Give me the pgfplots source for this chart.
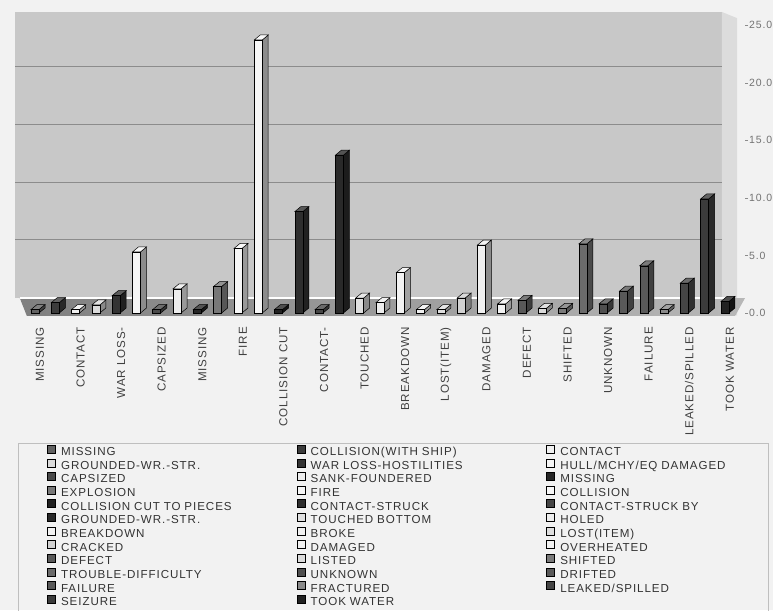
\documentclass[border=0pt]{standalone}
\usepackage{pgfplots}
\pgfplotsset{compat=1.18}
\usepackage{fontspec}
\setmainfont{Liberation Sans}
\newfontfamily\lsfont{Liberation Sans}[LetterSpace=8]
\definecolor{pagebg}{HTML}{F2F2F2}
\definecolor{wall}{HTML}{C8C8C8}
\definecolor{sidewall}{HTML}{DCDCDC}
\pgfplotsset{lg/.style={legend image code/.code={\draw[##1,draw=black,line width=0.6pt] (0pt,-0.5pt) rectangle (8pt,7.5pt);}}}
% #1 = position, #2 = value, #3 = front grey level, #4 = side grey level, #5 = legend text
\newcommand{\mybar}[5]{%
  \pgfmathsetmacro\xa{#1+0.197}\pgfmathsetmacro\xb{#1+0.493}%
  \pgfmathsetmacro\xc{#1-0.197}\pgfmathsetmacro\xd{#1+0.099}%
  \pgfmathsetmacro\yt{#2+0.434}%
  \addplot[fill=black!#4, draw=black, line width=0.5pt, forget plot] coordinates {(\xa,0) (\xb,0.434) (\xb,\yt) (\xa,#2)} -- cycle;
  \addplot[fill=black!#3!white!80!white, draw=black, line width=0.5pt, forget plot] coordinates {(\xc,#2) (\xa,#2) (\xb,\yt) (\xd,\yt)} -- cycle;
  \addplot[ybar, bar width=8pt, bar shift=0pt, fill=black!#3, draw=black, line width=0.5pt, lg] coordinates {(#1,#2)};
  \addlegendentry{#5}%
}
\begin{document}
\begin{tikzpicture}[x=1pt,y=1pt]
\fill[pagebg] (0,0) rectangle (773,610);
\useasboundingbox (0,0) rectangle (773,610);
\draw[black!25, line width=0.8pt] (18,-20) -- (18,167) -- (768,167) -- (768,-20);
\begin{axis}[
  at={(15pt,294pt)}, anchor=south west, scale only axis,
  width=730pt, height=304pt,
  xmin=0.0145, xmax=35.99, ymin=-0.26, ymax=26.13,
  no markers,
  axis line style={draw=none},
  ytick={0,5,10,15,20,25},
  yticklabel pos=right, ytick pos=right,
  tick align=outside, major tick length=3pt,
  ytick style={black!45},
  xtick style={draw=none},
  yticklabel style={anchor=west, inner sep=1pt, font=\lsfont\fontsize{10.5}{12}\selectfont, text=black!55,
    /pgf/number format/.cd, fixed, fixed zerofill, precision=1, assume math mode=true},
  xtick={1.246,3.246,5.246,7.246,9.246,11.246,13.246,15.246,17.246,19.246,21.246,23.246,25.246,27.246,29.246,31.246,33.246,35.246},
  xticklabels={MISSING,CONTACT,WAR LOSS-,CAPSIZED,MISSING,FIRE,COLLISION CUT\hspace{23pt},CONTACT-\hspace{30pt},TOUCHED,BREAKDOWN,LOST(ITEM),DAMAGED,DEFECT,SHIFTED,UNKNOWN,FAILURE,LEAKED/SPILLED,TOOK WATER},
  xticklabel style={rotate=90, anchor=east, inner sep=0pt, font=\lsfont\fontsize{11.6}{13}\selectfont, text=black!75},
  xticklabel shift=8pt,
  legend columns=3,
  legend style={at={(0.0438,-0.424)}, anchor=north west, draw=none, fill=none, inner sep=0pt, outer sep=0pt,
    row sep=0pt, column sep=0pt,
    /tikz/every even column/.append style={column sep=5pt},
    /tikz/every odd column/.append style={column sep=5pt},
    nodes={font=\lsfont\fontsize{11.6}{13}\selectfont, text=black!80, text height=8.2pt, text depth=2.5pt, inner sep=0.5pt, text width=230pt, align=left}},
]
\fill[wall] (axis cs:0.0145,1.3) rectangle (axis cs:34.85,26.13);
\fill[sidewall] (axis cs:34.85,1.3) -- (axis cs:34.85,26.13) -- (axis cs:35.6,25.6) -- (axis cs:35.6,-0.26) -- cycle;
\draw[black!45, line width=0.8pt] (axis cs:0.0145,6.42) -- (axis cs:34.85,6.42);
\draw[black!45, line width=0.8pt] (axis cs:0.0145,11.37) -- (axis cs:34.85,11.37);
\draw[black!45, line width=0.8pt] (axis cs:0.0145,16.41) -- (axis cs:34.85,16.41);
\draw[black!45, line width=0.8pt] (axis cs:0.0145,21.44) -- (axis cs:34.85,21.44);
\shade[left color=black!50, right color=black!28] (axis cs:0.25,1.3) -- (axis cs:35.99,1.3) -- (axis cs:35.5,-0.26) -- (axis cs:0.6,-0.26) -- cycle;
\draw[white, line width=1.2pt] (axis cs:0.25,1.3) -- (axis cs:35.3,1.3);
\mybar{1}{0.3}{62}{75}{MISSING}
\mybar{2}{0.9}{77}{84}{COLLISION(WITH SHIP)}
\mybar{3}{0.3}{6}{40}{CONTACT}
\mybar{4}{0.7}{14}{46}{GROUNDED-WR.-STR.}
\mybar{5}{1.5}{80}{87}{WAR LOSS-HOSTILITIES}
\mybar{6}{5.3}{4}{45}{HULL/MCHY/EQ DAMAGED}
\mybar{7}{0.3}{71}{80}{CAPSIZED}
\mybar{8}{2.1}{7}{40}{SANK-FOUNDERED}
\mybar{9}{0.3}{85}{90}{MISSING}
\mybar{10}{2.3}{53}{66}{EXPLOSION}
\mybar{11}{5.6}{3}{40}{FIRE}
\mybar{12}{23.7}{3}{45}{COLLISION}
\mybar{13}{0.3}{87}{93}{COLLISION CUT TO PIECES}
\mybar{14}{8.8}{82}{87}{CONTACT-STRUCK}
\mybar{15}{0.3}{73}{80}{CONTACT-STRUCK BY}
\mybar{16}{13.7}{84}{89}{GROUNDED-WR.-STR.}
\mybar{17}{1.3}{12}{46}{TOUCHED BOTTOM}
\mybar{18}{0.9}{7}{40}{HOLED}
\mybar{19}{3.5}{5}{37}{BREAKDOWN}
\mybar{20}{0.3}{6}{40}{BROKE}
\mybar{21}{0.3}{13}{47}{LOST(ITEM)}
\mybar{22}{1.3}{18}{50}{CRACKED}
\mybar{23}{5.9}{6}{45}{DAMAGED}
\mybar{24}{0.8}{5}{40}{OVERHEATED}
\mybar{25}{1.1}{65}{76}{DEFECT}
\mybar{26}{0.4}{14}{47}{LISTED}
\mybar{27}{0.4}{52}{67}{SHIFTED}
\mybar{28}{6.0}{58}{71}{TROUBLE-DIFFICULTY}
\mybar{29}{0.8}{69}{78}{UNKNOWN}
\mybar{30}{1.9}{65}{75}{DRIFTED}
\mybar{31}{4.1}{65}{75}{FAILURE}
\mybar{32}{0.3}{46}{62}{FRACTURED}
\mybar{33}{2.6}{73}{81}{LEAKED/SPILLED}
\mybar{34}{9.9}{77}{84}{SEIZURE}
\mybar{35}{1.0}{87}{92}{TOOK WATER}
\end{axis}
\end{tikzpicture}
\end{document}
